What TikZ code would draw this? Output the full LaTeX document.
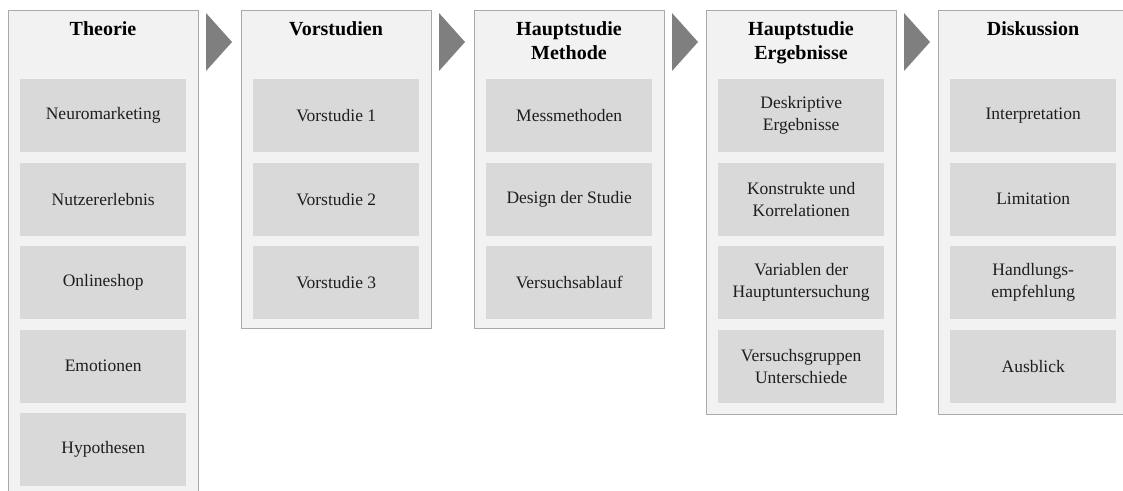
\documentclass[tikz,border=0pt]{standalone}
\usepackage{fontspec}
\setmainfont{Liberation Serif}
\definecolor{panelfill}{RGB}{242,242,242}
\definecolor{panelline}{RGB}{170,170,170}
\definecolor{itemfill}{RGB}{217,217,217}
\definecolor{chevron}{RGB}{127,127,127}
\definecolor{txt}{RGB}{30,30,30}
\tikzset{
  panel/.style={draw=panelline, line width=1pt, fill=panelfill, anchor=north west, minimum width=190pt, inner sep=0pt},
  item/.style={fill=itemfill, anchor=north west, minimum width=166pt, minimum height=73pt, inner sep=0pt, align=center, text=txt,
     font=\fontsize{17.5}{22}\selectfont},
  ttl/.style={anchor=north, align=center, inner sep=0pt, text=black, font=\fontsize{20}{24}\selectfont\bfseries},
  chev/.style={fill=chevron, draw=none}
}
\begin{document}
\begin{tikzpicture}[x=1pt,y=-1pt]
\useasboundingbox (0,0) rectangle (1123,490);
\clip (0,0) rectangle (1123,490);
% panels
\node[panel, minimum height=495pt] (p1) at (8,10) {};
\node[panel, minimum height=318pt] (p2) at (241,10) {};
\node[panel, minimum height=318pt] (p3) at (474,10) {};
\node[panel, minimum height=404pt] (p4) at (706,10) {};
\node[panel, minimum height=404pt] (p5) at (938,10) {};
% titles
\node[ttl] (t1) at (103,21) {Theorie};
\node[ttl] (t2) at (336,21) {Vorstudien};
\node[ttl] (t3) at (569,21) {Hauptstudie\\Methode};
\node[ttl] (t4) at (801,21) {Hauptstudie\\Ergebnisse};
\node[ttl] (t5) at (1033,21) {Diskussion};
% chevrons
\foreach \x/\n in {206/a,439/b,672/c,904/d}{
  \fill[chev] (\x,13) -- (\x+26,42) -- (\x,71) -- cycle;
}
% column 1
\node[item] (a1) at (20,79) {Neuromarketing};
\node[item] (a2) at (20,162.5) {Nutzererlebnis};
\node[item] (a3) at (20,246) {Onlineshop};
\node[item] (a4) at (20,329.5) {Emotionen};
\node[item] (a5) at (20,413) {Hypothesen};
% column 2
\node[item] (b1) at (253,79) {Vorstudie 1};
\node[item] (b2) at (253,162.5) {Vorstudie 2};
\node[item] (b3) at (253,246) {Vorstudie 3};
% column 3
\node[item] (c1) at (486,79) {Messmethoden};
\node[item] (c2) at (486,162.5) {Design der Studie};
\node[item] (c3) at (486,246) {Versuchsablauf};
% column 4
\node[item] (d1) at (718,79) {Deskriptive\\Ergebnisse};
\node[item] (d2) at (718,162.5) {Konstrukte und\\Korrelationen};
\node[item] (d3) at (718,246) {Variablen der\\Hauptuntersuchung};
\node[item] (d4) at (718,329.5) {Versuchsgruppen\\Unterschiede};
% column 5
\node[item] (e1) at (950,79) {Interpretation};
\node[item] (e2) at (950,162.5) {Limitation};
\node[item] (e3) at (950,246) {Handlungs-\\empfehlung};
\node[item] (e4) at (950,329.5) {Ausblick};
\end{tikzpicture}
\end{document}
